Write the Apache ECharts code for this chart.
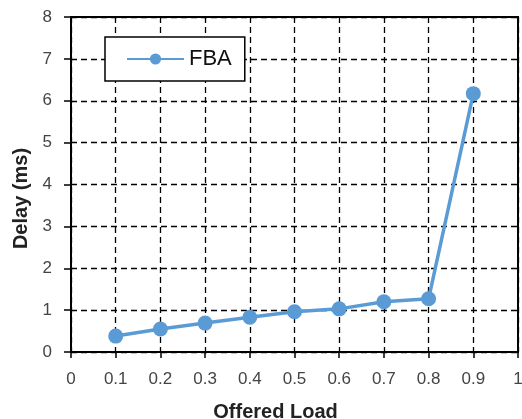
<!DOCTYPE html>
<html><head><meta charset="utf-8">
<script src="https://cdn.jsdelivr.net/npm/echarts@6/dist/echarts.min.js"></script>
<style>html,body{margin:0;padding:0;background:#fff}#c{width:522px;height:419px}</style>
</head><body><div id="c"></div>
<script>
var loads = [0.1, 0.2, 0.3, 0.4, 0.5, 0.6, 0.7, 0.8, 0.9];
var fbaDelay = [0.38, 0.55, 0.69, 0.83, 0.96, 1.03, 1.2, 1.27, 6.17];
var seriesName = 'FBA';
var xTitle = 'Offered Load';
var yTitle = 'Delay (ms)';

var chart = echarts.init(document.getElementById('c'));
var dash = {color: '#000', width: 1.3, type: [6, 4]};
var font = 'Liberation Sans, Arial, sans-serif';
chart.setOption({
  animation: false,
  backgroundColor: '#fff',
  grid: {left: 71, right: 4, top: 17, bottom: 67, outerBoundsMode: 'none', containLabel: false,
    show: true, borderColor: '#000', borderWidth: 2, backgroundColor: 'transparent'},
  legend: {
    left: 105, top: 37,
    data: [seriesName],
    borderColor: '#000', borderWidth: 1.5, backgroundColor: '#fff',
    padding: [11, 13, 11, 21],
    itemWidth: 57, itemHeight: 14,
    textStyle: {fontFamily: font, fontSize: 22, lineHeight: 22, color: '#111'}
  },
  xAxis: {
    type: 'value', min: 0, max: 1, interval: 0.1,
    name: xTitle, nameLocation: 'middle', nameGap: 50,
    nameTextStyle: {fontFamily: font, fontWeight: 'bold', fontSize: 20, color: '#222', padding: [0, 38, 0, 0]},
    axisLine: {show: true, lineStyle: {color: '#000', width: 2}},
    axisTick: {show: true, length: 6, lineStyle: {color: '#000', width: 1.5}},
    axisLabel: {margin: 19, fontFamily: font, fontSize: 17, color: '#444',
      formatter: function (v) { return String(Math.round(v * 10) / 10); }},
    splitLine: {show: true, lineStyle: dash}
  },
  yAxis: {
    type: 'value', min: 0, max: 8, interval: 1,
    name: yTitle, nameLocation: 'middle', nameGap: 40, nameRotate: 90,
    nameTextStyle: {fontFamily: font, fontWeight: 'bold', fontSize: 20, color: '#222', padding: [0, 28, 0, 0]},
    axisLine: {show: true, lineStyle: {color: '#000', width: 2}},
    axisTick: {show: true, length: 7, lineStyle: {color: '#000', width: 1.5}},
    axisLabel: {margin: 19, fontFamily: font, fontSize: 17, color: '#444'},
    splitLine: {show: true, lineStyle: dash}
  },
  series: [{
    name: seriesName, type: 'line',
    data: loads.map(function (x, i) { return [x, fbaDelay[i]]; }),
    symbol: 'circle', symbolSize: 15,
    lineStyle: {color: '#5B9BD5', width: 3.5},
    itemStyle: {color: '#5B9BD5'}
  }]
});
</script></body></html>
